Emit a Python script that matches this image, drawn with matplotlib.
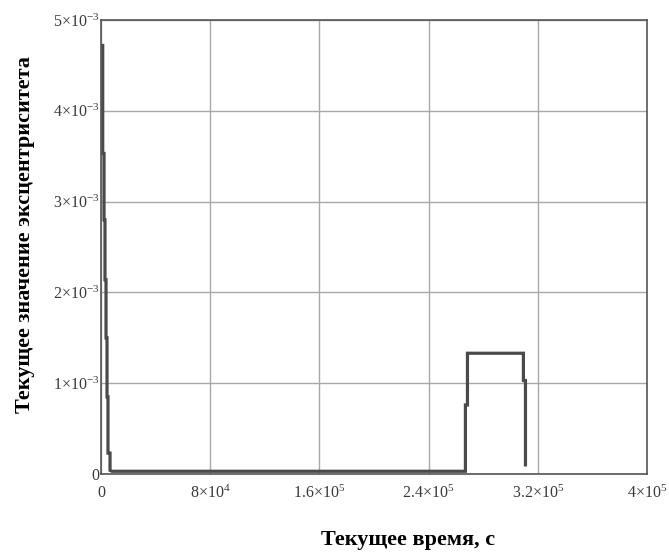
import numpy as np
import matplotlib.pyplot as plt

plt.rcParams['font.family'] = ['Liberation Serif', 'DejaVu Serif']
plt.rcParams['mathtext.fontset'] = 'custom'
plt.rcParams['mathtext.rm'] = 'Liberation Serif'
plt.rcParams['mathtext.it'] = 'Liberation Serif:italic'

# staircase points: time (s), eccentricity
time = [1250, 1250, 2200, 2200, 2900, 2900, 3660, 3660, 4400, 4400, 5100, 5100,
        6600, 6600, 8000, 267000, 267000, 268500, 268500, 309500, 309500,
        311000, 311000]
ecc = [4.72e-3, 3.53e-3, 3.53e-3, 2.80e-3, 2.80e-3, 2.14e-3, 2.14e-3, 1.50e-3,
       1.50e-3, 0.85e-3, 0.85e-3, 0.23e-3, 0.23e-3, 0.04e-3, 0.03e-3, 0.03e-3,
       0.76e-3, 0.76e-3, 1.33e-3, 1.33e-3, 1.03e-3, 1.03e-3, 0.10e-3]

xticks = [0, 8e4, 1.6e5, 2.4e5, 3.2e5, 4e5]
xlabels = ['0', r'$8{\times}10^4$', r'$1.6{\times}10^5$', r'$2.4{\times}10^5$',
           r'$3.2{\times}10^5$', r'$4{\times}10^5$']
yticks = [0, 1e-3, 2e-3, 3e-3, 4e-3, 5e-3]
ylabels = ['0', r'$1{\times}10^{-3}$', r'$2{\times}10^{-3}$', r'$3{\times}10^{-3}$',
           r'$4{\times}10^{-3}$', r'$5{\times}10^{-3}$']

fig = plt.figure(figsize=(6.69, 5.56), dpi=100)
ax = fig.add_axes([0.151, 0.1475, 0.816, 0.8165])

ax.plot(time, ecc, color='#4a4a4a', lw=2.3, solid_joinstyle='miter')

ax.set_xlim(0, 4e5)
ax.set_ylim(0, 5e-3)
ax.set_xticks(xticks)
ax.set_xticklabels(xlabels)
ax.set_yticks(yticks)
ax.set_yticklabels(ylabels)
ax.tick_params(length=0, labelsize=11.5, labelcolor='#3a3a3a')
ax.tick_params(axis='x', pad=8)
ax.tick_params(axis='y', pad=1)
ax.grid(True, color='#a8a8a8', lw=1.0)
for s in ax.spines.values():
    s.set_color('#555555')
    s.set_linewidth(1.2)

fig.text(408 / 669, 1 - 540 / 556, 'Текущее время, с', fontsize=16,
         fontweight='bold', ha='center', va='center')
fig.text(25 / 669, 1 - 235 / 556, 'Текущее значение эксцентриситета', fontsize=16,
         fontweight='bold', ha='center', va='center', rotation=90)

fig.savefig('out.png', dpi=100)
